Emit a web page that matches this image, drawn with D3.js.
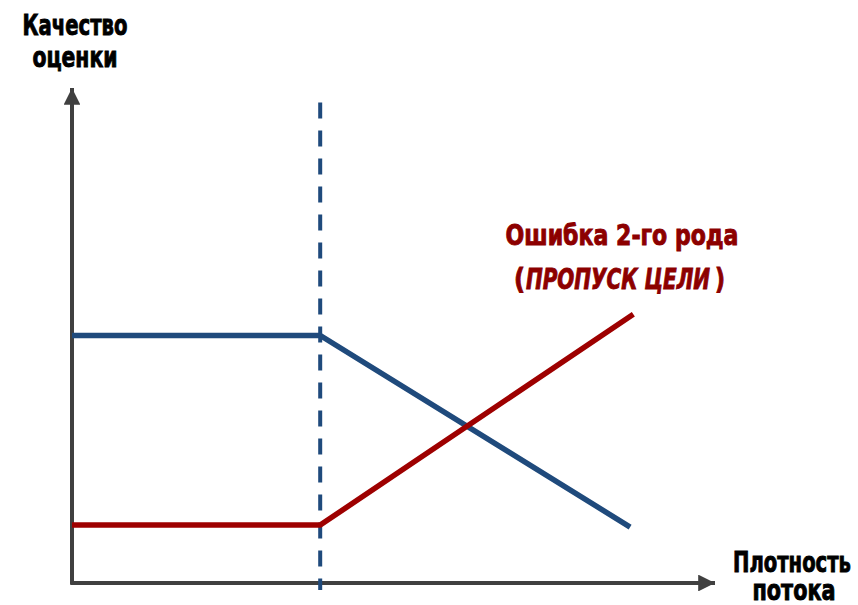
<!DOCTYPE html>
<html>
<head>
<meta charset="utf-8">
<script src="https://cdn.jsdelivr.net/npm/d3@7"></script>
<style>
body { margin: 0; background: #fff; }
text { font-family: "Liberation Sans Narrow", "DejaVu Sans Condensed", "DejaVu Sans", sans-serif; font-weight: bold; font-stretch: condensed; }
</style>
</head>
<body>
<script>
// data (x and y in 0..100 units)
var blueX = [0, 38.6, 86.8];
var blueY = [50, 50, 11.3];
var redX = [0, 38.6, 87.3];
var redY = [11.7, 11.7, 54.3];
var threshold = 38.6;

var yTitle = ["Качество", "оценки"];
var xTitle = ["Плотность", "потока"];

var svg = d3.select("body").append("svg")
    .attr("width", 858)
    .attr("height", 605);

var x = d3.scaleLinear().domain([0, 100]).range([72, 715]);
var y = d3.scaleLinear().domain([0, 100]).range([583, 88]);

var axisColor = "#404040";

// arrow heads
var defs = svg.append("defs");
defs.append("marker")
    .attr("id", "arrow")
    .attr("viewBox", "0 0 10 10")
    .attr("refX", 10)
    .attr("refY", 5)
    .attr("markerWidth", 4.2)
    .attr("markerHeight", 4.2)
    .attr("markerUnits", "strokeWidth")
    .attr("orient", "auto")
    .append("path")
    .attr("d", "M0,0 L10,5 L0,10 Z")
    .attr("fill", axisColor);

// y axis
svg.append("line")
    .attr("x1", x(0)).attr("y1", y(0) + 1.5)
    .attr("x2", x(0)).attr("y2", y(100))
    .attr("stroke", axisColor)
    .attr("stroke-width", 4)
    .attr("marker-end", "url(#arrow)");

// x axis
svg.append("line")
    .attr("x1", x(0) - 1.5).attr("y1", y(0))
    .attr("x2", x(100)).attr("y2", y(0))
    .attr("stroke", axisColor)
    .attr("stroke-width", 4)
    .attr("marker-end", "url(#arrow)");

// dashed threshold
svg.append("line")
    .attr("x1", x(threshold)).attr("y1", 102.5)
    .attr("x2", x(threshold)).attr("y2", 590)
    .attr("stroke", "#1f4a7c")
    .attr("stroke-width", 4)
    .attr("stroke-dasharray", "16,12");

var line = d3.line()
    .x(function (d) { return x(d[0]); })
    .y(function (d) { return y(d[1]); });

svg.append("path")
    .datum(d3.zip(blueX, blueY))
    .attr("d", line)
    .attr("fill", "none")
    .attr("stroke", "#1f4a7c")
    .attr("stroke-width", 5.5);

svg.append("path")
    .datum(d3.zip(redX, redY))
    .attr("d", line)
    .attr("fill", "none")
    .attr("stroke", "#9e0000")
    .attr("stroke-width", 5.5);

// labels
function label(txt, px, by, w, color, anchor) {
    return svg.append("text")
        .attr("x", px)
        .attr("y", by)
        .attr("text-anchor", anchor || "middle")
        .attr("font-size", 29)
        .attr("fill", color)
        .attr("stroke", color)
        .attr("stroke-width", 0.9)
        .attr("textLength", w)
        .attr("lengthAdjust", "spacingAndGlyphs")
        .text(txt);
}

label(yTitle[0], 75, 35, 105, "#000");
label(yTitle[1], 75, 67, 85, "#000");
label(xTitle[0], 792, 572, 118, "#000");
label(xTitle[1], 794, 600, 83, "#000");

var red = "#8c0000";
label("Ошибка 2-го рода", 622, 245, 233, red);
label("(", 514, 289, 11, red, "start");
label("ПРОПУСК ЦЕЛИ", 526, 289, 184, red, "start").attr("font-style", "italic");
label(")", 715, 289, 10, red, "start");
</script>
</body>
</html>
